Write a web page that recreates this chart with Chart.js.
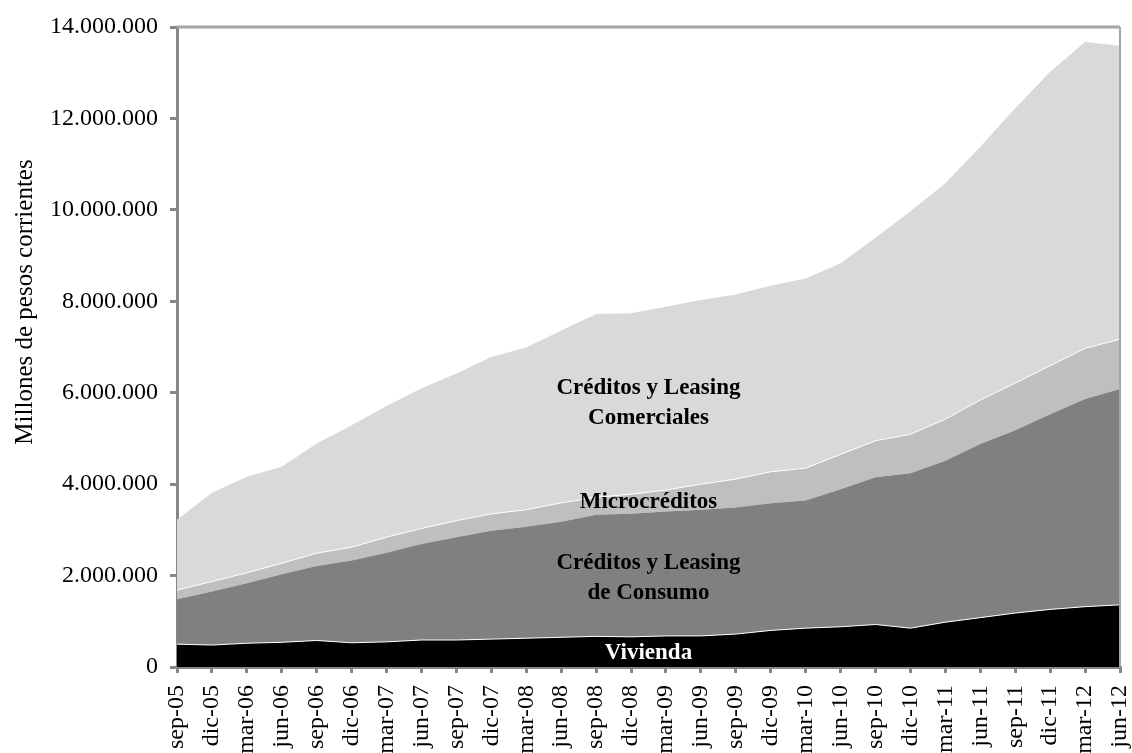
<!DOCTYPE html>
<html>
<head>
<meta charset="utf-8">
<script src="https://cdn.jsdelivr.net/npm/chart.js@4/dist/chart.umd.min.js"></script>
<style>
  body { margin: 0; background: #fff; }
  #wrap { width: 1132px; height: 753px; }
</style>
</head>
<body>
<div id="wrap"><canvas id="chart" width="1132" height="753"></canvas></div>
<script>
const labels = ['sep-05', 'dic-05', 'mar-06', 'jun-06', 'sep-06', 'dic-06', 'mar-07', 'jun-07',
    'sep-07', 'dic-07', 'mar-08', 'jun-08', 'sep-08', 'dic-08', 'mar-09', 'jun-09', 'sep-09',
    'dic-09', 'mar-10', 'jun-10', 'sep-10', 'dic-10', 'mar-11', 'jun-11', 'sep-11', 'dic-11',
    'mar-12', 'jun-12'];

// millones de pesos corrientes
const vivienda = [500000, 480000, 520000, 540000, 580000, 530000, 550000, 590000, 590000, 610000,
    630000, 650000, 670000, 660000, 680000, 680000, 720000, 800000, 850000, 880000, 930000,
    850000, 980000, 1080000, 1180000, 1260000, 1320000, 1360000];
const consumo = [980000, 1170000, 1310000, 1490000, 1630000, 1800000, 1950000, 2100000, 2250000,
    2370000, 2440000, 2530000, 2660000, 2690000, 2720000, 2760000, 2770000, 2780000, 2790000,
    3010000, 3220000, 3390000, 3530000, 3800000, 4000000, 4270000, 4540000, 4720000];
const microcreditos = [200000, 220000, 230000, 240000, 280000, 290000, 340000, 340000, 360000,
    370000, 370000, 410000, 380000, 430000, 470000, 560000, 620000, 690000, 710000, 760000,
    800000, 850000, 910000, 960000, 1030000, 1060000, 1110000, 1090000];
const comerciales = [1540000, 1940000, 2100000, 2110000, 2400000, 2670000, 2870000, 3070000,
    3220000, 3430000, 3550000, 3770000, 4010000, 3960000, 4010000, 4030000, 4040000, 4070000,
    4150000, 4180000, 4440000, 4880000, 5160000, 5540000, 6010000, 6430000, 6700000, 6420000];

const yMax = 14000000;
const yStep = 2000000;

// area labels: x as category index, y as value on the axis
const notes = [
    { text: 'Créditos y Leasing', x: 13.5, y: 6100000, color: '#000' },
    { text: 'Comerciales', x: 13.5, y: 5450000, color: '#000' },
    { text: 'Microcréditos', x: 13.5, y: 3610000, color: '#000' },
    { text: 'Créditos y Leasing', x: 13.5, y: 2280000, color: '#000' },
    { text: 'de Consumo', x: 13.5, y: 1620000, color: '#000' },
    { text: 'Vivienda', x: 13.5, y: 310000, color: '#fff' }
];

const serif = 'Liberation Serif, Times New Roman, serif';
const axisGray = '#878787';

const fmt = v => String(v).replace(/\B(?=(\d{3})+(?!\d))/g, '.');

const extras = {
    id: 'extras',
    afterDatasetsDraw(chart) {
        const { ctx, chartArea } = chart;
        const xs = chart.scales.x, ys = chart.scales.y;
        ctx.save();
        // frame on top and right
        ctx.strokeStyle = '#a6a6a6';
        ctx.lineWidth = 3;
        ctx.beginPath();
        ctx.moveTo(chartArea.left, chartArea.top);
        ctx.lineTo(chartArea.right, chartArea.top);
        ctx.stroke();
        ctx.lineWidth = 2;
        ctx.beginPath();
        ctx.moveTo(chartArea.right, chartArea.top);
        ctx.lineTo(chartArea.right, chartArea.bottom);
        ctx.stroke();

        ctx.font = 'bold 23px ' + serif;
        ctx.textAlign = 'center';
        ctx.textBaseline = 'middle';
        notes.forEach(n => {
            ctx.fillStyle = n.color;
            ctx.fillText(n.text, xs.getPixelForValue(n.x), ys.getPixelForValue(n.y));
        });

        // y axis title
        ctx.fillStyle = '#000';
        ctx.font = '25px ' + serif;
        ctx.translate(25, 302);
        ctx.rotate(-Math.PI / 2);
        ctx.fillText('Millones de pesos corrientes', 0, 0);
        ctx.restore();
    }
};

const ctx = document.getElementById('chart').getContext('2d');
const chart = new Chart(ctx, {
    type: 'line',
    data: {
        labels: labels,
        datasets: [
            { label: 'Vivienda', data: vivienda, backgroundColor: '#000000', borderColor: '#ffffff', borderWidth: 1, fill: 'origin' },
            { label: 'Créditos y Leasing de Consumo', data: consumo, backgroundColor: '#808080', borderColor: 'rgba(0,0,0,0)', borderWidth: 1, fill: '-1' },
            { label: 'Microcréditos', data: microcreditos, backgroundColor: '#bfbfbf', borderColor: '#ffffff', borderWidth: 1, fill: '-1' },
            { label: 'Créditos y Leasing Comerciales', data: comerciales, backgroundColor: '#d9d9d9', borderColor: 'rgba(0,0,0,0)', borderWidth: 1, fill: '-1' }
        ]
    },
    plugins: [extras],
    options: {
        responsive: false,
        animation: false,
        elements: {
            point: { radius: 0 },
            line: { tension: 0 }
        },
        layout: { padding: { top: 27, right: 12, left: 0, bottom: 0 } },
        plugins: {
            legend: { display: false },
            tooltip: { enabled: false }
        },
        scales: {
            x: {
                offset: false,
                grid: { display: true, drawOnChartArea: false, drawTicks: true, tickLength: 6, color: axisGray, lineWidth: 3 },
                border: { color: axisGray, width: 3 },
                ticks: {
                    autoSkip: false,
                    minRotation: 90,
                    maxRotation: 90,
                    padding: 12,
                    color: '#000',
                    font: { family: serif, size: 24 }
                },
                afterFit: s => {
                    s.height = 86;
                    s.paddingLeft = 0;
                    s.paddingRight = 0;
                }
            },
            y: {
                stacked: true,
                min: 0,
                max: yMax,
                grid: { display: true, drawOnChartArea: false, drawTicks: true, tickLength: 7, color: axisGray, lineWidth: 3 },
                border: { color: axisGray, width: 3 },
                ticks: {
                    stepSize: yStep,
                    padding: 12,
                    color: '#000',
                    font: { family: serif, size: 24 },
                    callback: v => fmt(v)
                },
                afterFit: s => {
                    s.width = 177;
                    s.paddingTop = 0;
                    s.paddingBottom = 0;
                }
            }
        }
    }
});
</script>
</body>
</html>
